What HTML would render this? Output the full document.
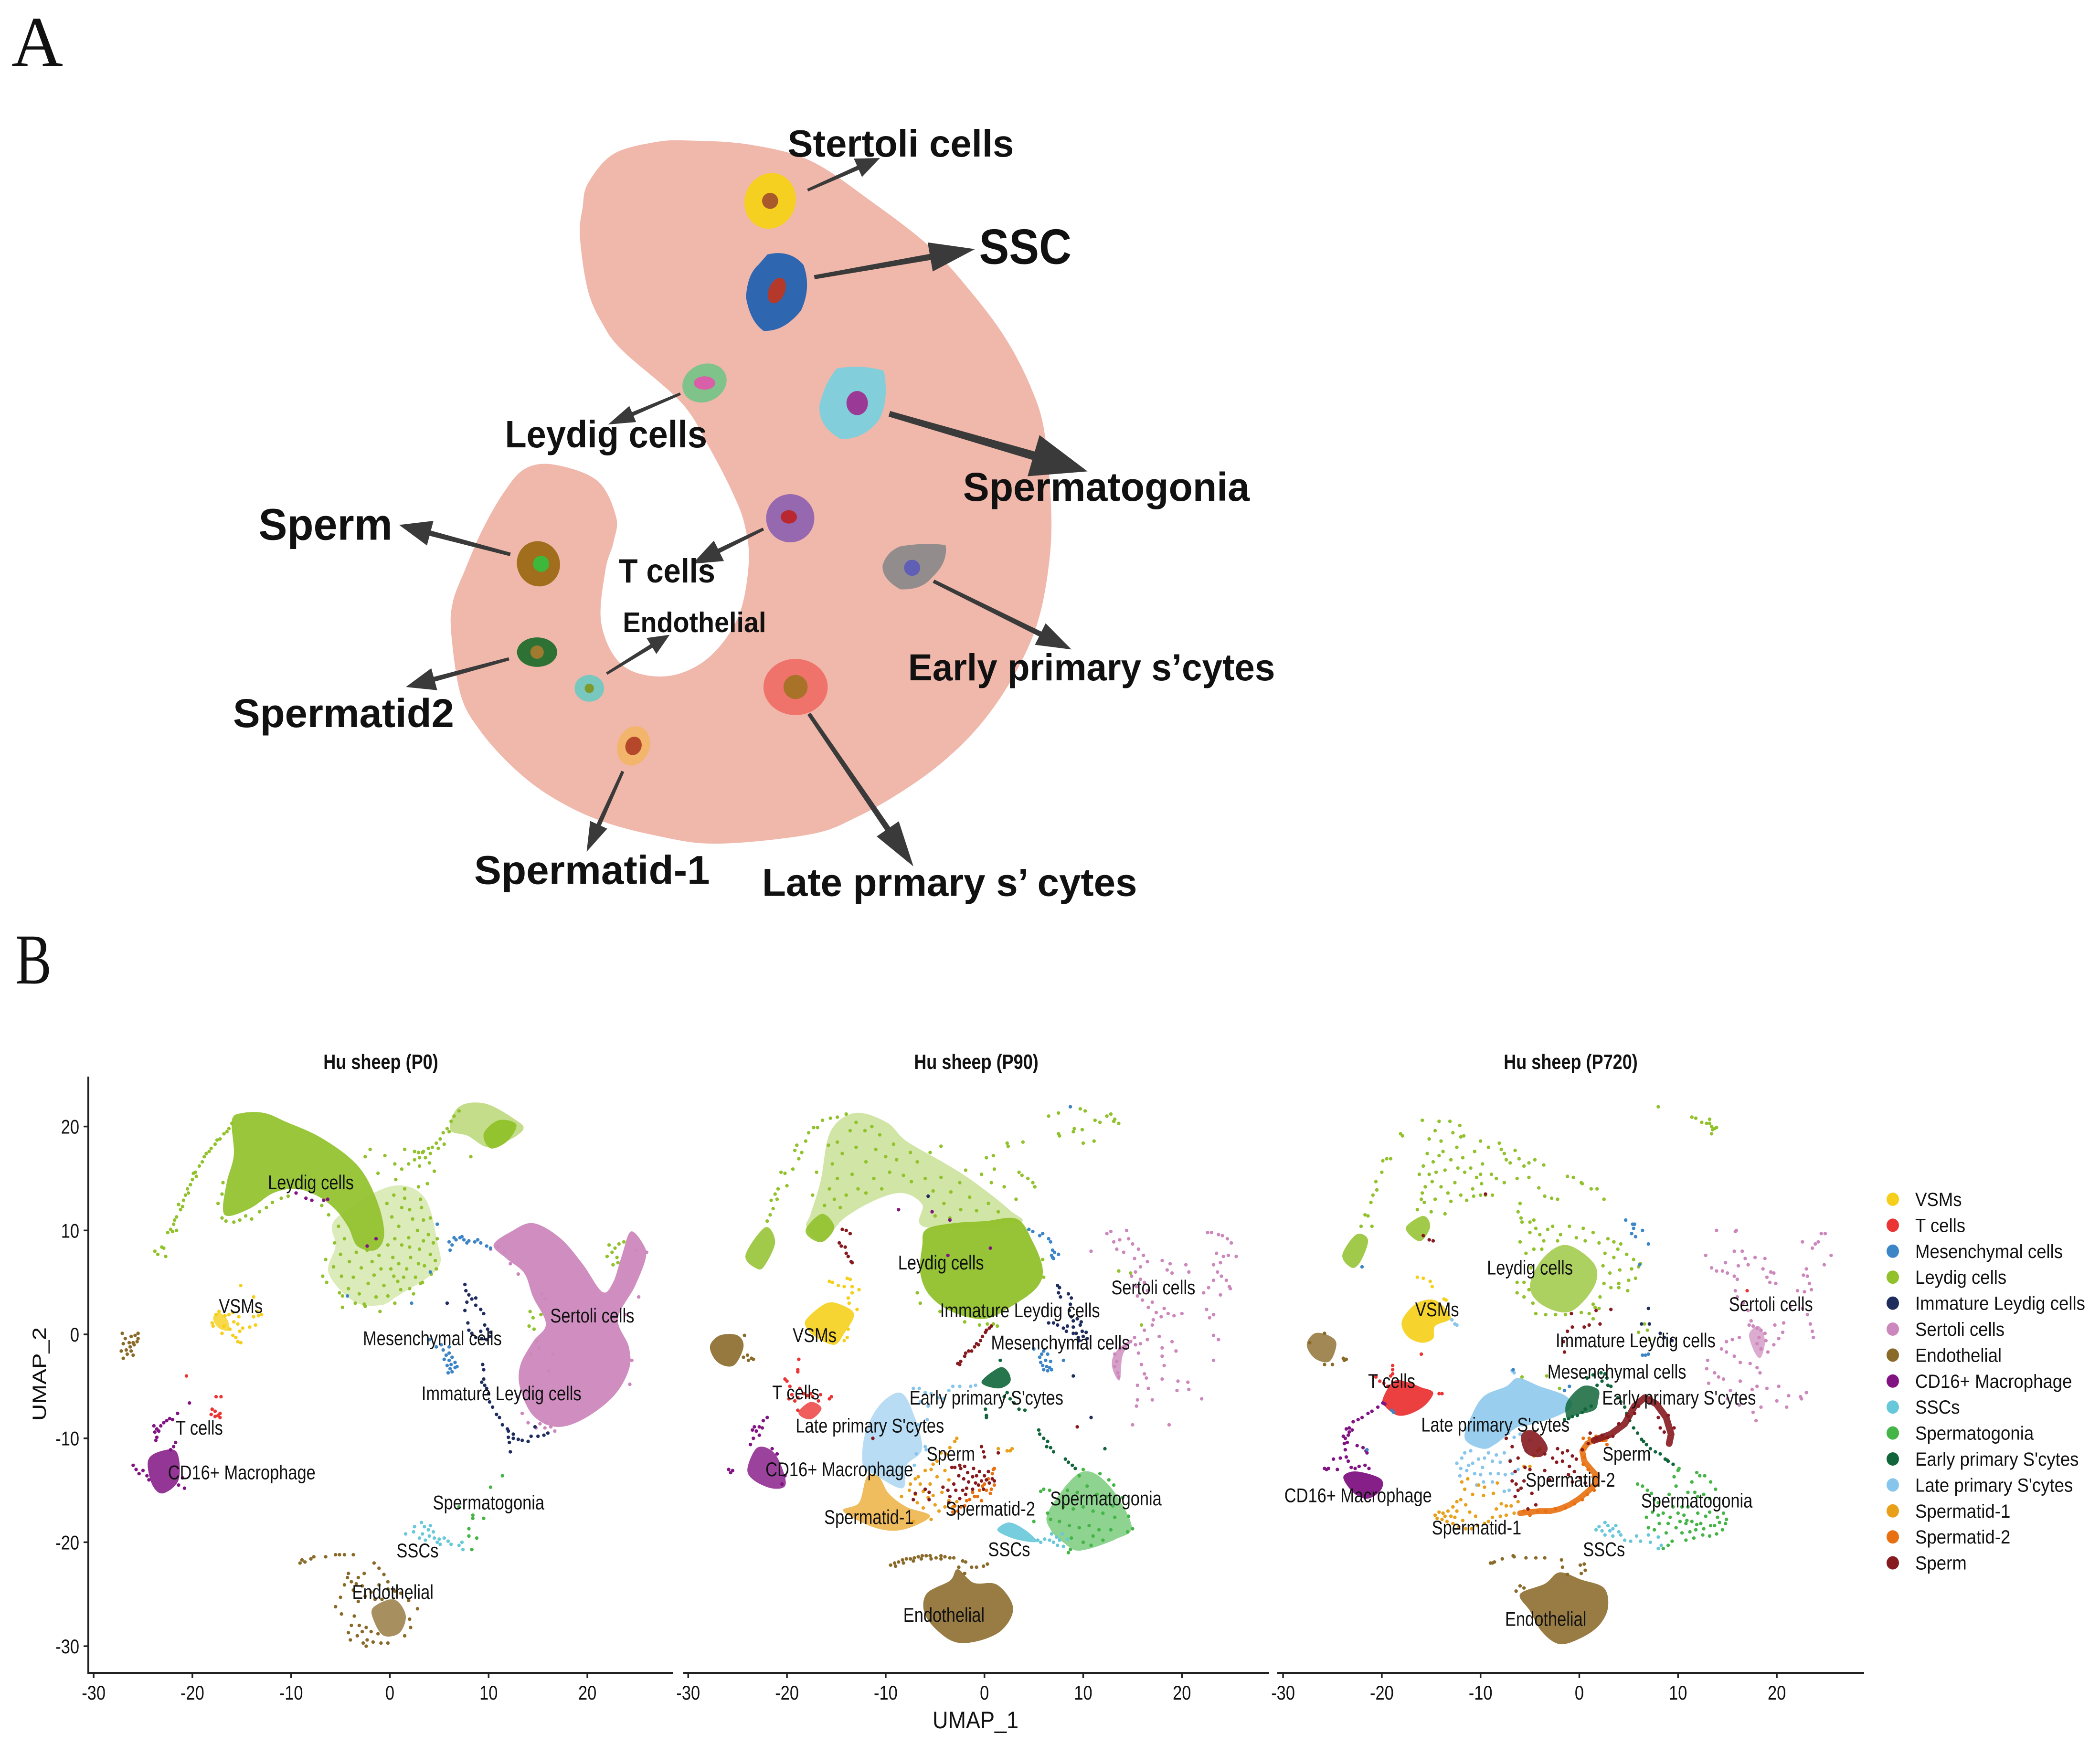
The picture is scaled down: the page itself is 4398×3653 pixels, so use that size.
<!DOCTYPE html>
<html><head><meta charset="utf-8"><title>Hu sheep testis cell atlas</title>
<style>html,body{margin:0;padding:0;background:#fff}svg{display:block}
text{font-family:"Liberation Sans",sans-serif}</style></head>
<body>
<svg id="fig" xmlns="http://www.w3.org/2000/svg" width="4398" height="3653" viewBox="0 0 4398 3653">
<rect width="4398" height="3653" fill="#fff"/>
<text x="24" y="138" style="font-family:'Liberation Serif',serif" font-size="150" fill="#111" textLength="108" lengthAdjust="spacingAndGlyphs">A</text>
<text x="32" y="2060" style="font-family:'Liberation Serif',serif" font-size="150" fill="#111" textLength="76" lengthAdjust="spacingAndGlyphs">B</text>
<g id="tubule" transform="scale(2.805)">
<path id="tubule-shape" fill="#f0b7ab"/>
<g><ellipse cx="575" cy="150" rx="19" ry="21" fill="#f5d020" transform="rotate(20 575 150)"/><circle cx="575" cy="150" r="6" fill="#a85a2a"/></g>
<g><path d="M573 190 Q590 186 600 198 Q606 215 598 232 Q585 248 570 247 Q560 240 557 222 Q558 205 566 198Z" fill="#2e66b0"/><ellipse cx="580" cy="217" rx="6" ry="10" fill="#b5392b" transform="rotate(22 580 217)"/></g>
<g><ellipse cx="526" cy="286" rx="17" ry="14" fill="#7fc38a" transform="rotate(-25 526 286)"/><ellipse cx="526" cy="286" rx="8" ry="5" fill="#d85fa8"/></g>
<g><path d="M625 275 Q645 272 660 277 Q664 300 656 314 Q645 328 628 328 Q610 318 612 302 Q616 285 625 275Z" fill="#82cfdb"/><ellipse cx="640" cy="301" rx="8" ry="9" fill="#9b3a96"/></g>
<g><ellipse cx="590" cy="387" rx="18" ry="18" fill="#9568b0"/><ellipse cx="589" cy="386" rx="6" ry="5" fill="#b8282e"/></g>
<g><path d="M672 408 Q690 405 706 407 Q708 420 696 431 Q688 441 672 440 Q658 432 659 422 Q662 412 672 408Z" fill="#928c8c"/><circle cx="681" cy="424" r="6" fill="#5f5fb5"/></g>
<g><ellipse cx="594" cy="513" rx="24" ry="21" fill="#f0736b"/><circle cx="594" cy="513" r="9" fill="#a87228"/></g>
<g><ellipse cx="473" cy="557" rx="12" ry="15" fill="#f2b56b" transform="rotate(20 473 557)"/><ellipse cx="473" cy="557" rx="6" ry="7" fill="#b5472a" transform="rotate(20 473 557)"/></g>
<g><ellipse cx="440" cy="514" rx="11" ry="10" fill="#78c8c0"/><circle cx="440" cy="514" r="3.5" fill="#7e9a2d"/></g>
<g><ellipse cx="401" cy="487" rx="15" ry="11" fill="#2d7234"/><circle cx="401" cy="487" r="5" fill="#a07a2e"/></g>
<g><ellipse cx="402" cy="421" rx="16" ry="17" fill="#a06e1c" transform="rotate(-20 402 421)"/><circle cx="404" cy="421" r="6" fill="#3db83a"/></g>
<g id="arrows"></g>
<g font-weight="bold" fill="#111">
<text x="588" y="117" font-size="28.5" textLength="169" lengthAdjust="spacingAndGlyphs">Stertoli cells</text>
<text x="731" y="197" font-size="37" textLength="69" lengthAdjust="spacingAndGlyphs">SSC</text>
<text x="377" y="334" font-size="28.5" textLength="151" lengthAdjust="spacingAndGlyphs">Leydig cells</text>
<text x="719" y="374" font-size="30" textLength="214" lengthAdjust="spacingAndGlyphs">Spermatogonia</text>
<text x="193" y="403" font-size="33" textLength="100" lengthAdjust="spacingAndGlyphs">Sperm</text>
<text x="462" y="435" font-size="25" textLength="72" lengthAdjust="spacingAndGlyphs">T cells</text>
<text x="465" y="472" font-size="21" textLength="107" lengthAdjust="spacingAndGlyphs">Endothelial</text>
<text x="678" y="508" font-size="28" textLength="274" lengthAdjust="spacingAndGlyphs">Early primary s’cytes</text>
<text x="174" y="543" font-size="30" textLength="165" lengthAdjust="spacingAndGlyphs">Spermatid2</text>
<text x="354" y="660" font-size="30" textLength="176" lengthAdjust="spacingAndGlyphs">Spermatid-1</text>
<text x="569" y="669" font-size="29" textLength="280" lengthAdjust="spacingAndGlyphs">Late prmary s’ cytes</text>
</g>
</g>
<g id="chart"></g>
</svg>
<script>
// ---------- chart text and ticks ----------
const xTicks=[-30,-20,-10,0,10,20];
const yTicks=[20,10,0,-10,-20,-30];
const panelTitles=['Hu sheep (P0)','Hu sheep (P90)','Hu sheep (P720)'];
const legendLabels=['VSMs','T cells','Mesenchymal cells','Leydig cells','Immature Leydig cells','Sertoli cells','Endothelial','CD16+ Macrophage','SSCs','Spermatogonia','Early primary S\'cytes','Late primary S\'cytes','Spermatid-1','Spermatid-2','Sperm'];
const legendColors=['#f5cf1b','#eb3535','#3c85c6','#91c12b','#1f2d5e','#cc88bc','#8a6a29','#811383','#67c8d9','#45b548','#10663a','#88c5ec','#e8a01a','#e87010','#861a1f'];
const p0Labels=[['Leydig cells',-8,14.6],['VSMs',-15.1,2.7],['Sertoli cells',20.5,1.8],['Mesenchymal cells',4.3,-.4],['Immature Leydig cells',11.3,-5.7],['T cells',-19.3,-9],['CD16+ Macrophage',-15,-13.3],['Spermatogonia',10,-16.2],['SSCs',2.8,-20.8],['Endothelial',.3,-24.8]];
const p90Labels=[['Leydig cells',-4.4,6.9],['Sertoli cells',17.1,4.5],['Immature Leydig cells',3.6,2.3],['Mesenchymal cells',7.7,-.8],['VSMs',-17.2,-.1],['T cells',-19.1,-5.6],['Early primary S\'cytes',.2,-6.1],['Late primary S\'cytes',-11.6,-8.8],['Sperm',-3.4,-11.5],['CD16+ Macrophage',-14.7,-13],['Spermatid-1',-11.7,-17.6],['Spermatid-2',.6,-16.8],['Spermatogonia',12.3,-15.8],['SSCs',2.5,-20.7],['Endothelial',-4.1,-27]];
const p720Labels=[['Leydig cells',-5,6.4],['VSMs',-14.4,2.4],['Sertoli cells',19.4,2.9],['Immature Leydig cells',5.7,-.6],['Mesenchymal cells',3.8,-3.6],['T cells',-19,-4.5],['Early primary S\'cytes',10.1,-6.1],['Late primary S\'cytes',-8.5,-8.7],['Sperm',4.8,-11.5],['Spermatid-2',-.9,-14],['CD16+ Macrophage',-22.4,-15.5],['Spermatogonia',11.9,-16],['Spermatid-1',-10.4,-18.6],['SSCs',2.5,-20.7],['Endothelial',-3.4,-27.4]];

// ---------- P0 UMAP estimates (dense outlines and individually read cells) ----------
const p0LeydigCore=[[-16,20.6],[-14.9,21.3],[-12.7,21.3],[-10.4,20.4],[-7.3,19.1],[-4.2,17.1],[-2.4,15.1],[-1,12],[-.6,9.4],[-1.5,8.1],[-3.3,8.5],[-4.2,10.3],[-5.5,12],[-7.3,13.3],[-9.5,14],[-11.8,13.6],[-14,12.2],[-16.2,11.4],[-16.9,12],[-16.5,14.7],[-15.8,17.3]];
const p0LeydigHalo=[[-5.5,11.1],[-.1,14.2],[3.4,13.3],[4.8,8.9],[4.8,6.3],[.8,3.7],[-1,2.8],[-3.7,3.2],[-6.2,5.9],[-5.5,8.5]];
const p0LeydigHaloDots=[[-5.2,10.4],[-4.6,9.2],[-5,7.7],[-4.1,7],[-3.7,5.5],[-2.9,6.4],[-2.2,4.9],[-3.1,3.9],[-1.4,3.6],[-.6,4.7],[.4,5.6],[1.1,4.3],[1.7,6.3],[2.6,5.5],[3.5,6.6],[4.1,7.7],[3,8.2],[2.1,7.4],[1.2,8.6],[.3,7.4],[-.9,6.3],[-1.8,7],[3.9,9.6],[2.8,10],[1.9,9.3],[.9,10.4],[.2,11.3],[1.2,12.2],[2.3,11.1],[3.2,12.2],[1.5,13.1],[.4,13.4],[-.3,12.6],[.5,9.2],[4.4,8.8],[-5.6,8.8],[-4.2,4.4],[-2.6,2.9],[-1.6,5.7],[.9,6.8],[2.4,3.9],[3.3,5],[-3.4,7.9],[-2.3,8.1],[-1.1,7.6],[-.2,8.6],[.8,5.1],[-.2,3.7],[4.6,7.1],[3.4,9],[2,8.4],[1.4,5.5],[-4.9,5.6],[-5.7,6.5],[.1,6.3],[2.9,6.8]];
const p0LeydigLobe=[[7,21.9],[9.7,22.2],[12.8,20.6],[13.5,19.7],[11.9,18.6],[9.9,18],[7.9,19.1],[6.1,19.7]];
const p0LeydigLobeCore=[[9.5,19.3],[11,20.6],[12.8,20.2],[11.9,18.6],[10.2,17.9]];
const p0LeydigDots=[[-23.8,8],[-23.1,8.4],[-23.5,7.7],[-22.7,7.5],[-22.9,8.3],[-22.5,9.8],[-22.2,10.1],[-22,9.9],[-21.9,10.6],[-21.6,10],[-21.6,11.3],[-21.2,12],[-21.4,12.5],[-20.9,12.9],[-20.7,13.4],[-20.2,14.4],[-20,14.9],[-19.7,15.6],[-19.3,16.2],[-19,16.6],[-18.6,17.4],[-18.1,17.9],[-17.7,18.3],[-17.2,18.8],[-16.8,19.3],[-16.3,19.8],[-16,20.3],[-20.5,14],[-19.6,15.2],[-18.8,17.1],[-18.3,17.6],[-21,12.3],[-20.4,13.6],[-17.5,18.7],[-16.5,19.5],[-21.8,11],[-19.9,15.5],
[-17,11.2],[-16.6,10.9],[-15.8,10.8],[-15.2,11],[-14.6,11.4],[-14,11.1],[-13.2,11.8],[-12.5,12.2],[-11.9,12.7],[-11,13.1],[-10.3,13.3],[-17.4,12.6],[-17,13.5],[-16.9,14.6],[-6.9,12.4],[-6.2,11.5],[-1.2,15.5],[-.5,17.2],[.5,16.4],[1.2,15.9],[1.5,17.8],[-2,17.8],[-2.5,17.1],[2.5,17.6],[3.3,17.5],[3,16.2],[4,16.5],[4.5,15.7],[3.8,14.5],[3.1,13],[2.9,14.2],[1.5,14],[.6,14.9],[2,12],[3.4,11],
[1.9,16.4],[2.5,16.8],[3,17],[3.4,17.6],[3.9,17.9],[4.3,18],[4.7,18.4],[5.1,18.8],[5.4,19.4],[5.8,19.8],[6.2,20.5],[6.5,21],[7,21.5],[4.1,17.4],[4.9,17.9],[3.6,17],[5.5,18.3],[6,19.5],[2.9,17.5],[8.2,17.1],
[-6.4,5],[-5.1,4],[-4.8,3.7],[-3.5,3],[-4.8,2.6],[-2.5,2.7],[-1,2.2],[.5,3],[2,4.4],[3.1,4.9],[4.7,6.3],[4.2,5.8],[4.8,9.2],[4.1,11.2],[-6.8,5.6],[-6.5,7.2],[23,7.4],[22.6,6.7],[22.5,7.9],[22.2,8.6],[22,7.5],[23.2,8.7],[22.8,8.3],[23.7,8.9],[23.1,6.9],[14.5,1.6],[14.2,2.2],[14.1,.8],[14.6,.5],[15.3,1.9],[15.7,3.4],[14.3,-1.9],[14.9,-.7],[16.1,-3.5],[16.5,-1.9]];
const p0SertoliCore=[[10.5,8.6],[12.3,9.9],[14.5,10.7],[17.2,9.3],[19.5,6.8],[21.5,4.1],[22.6,5],[23.5,7.6],[24.4,9.9],[25.7,8.6],[25.9,7.3],[24.8,4.6],[23.1,1.5],[24.2,-1.2],[24.2,-3.4],[22.6,-6],[19.5,-8.2],[16.8,-8.9],[14.5,-7.8],[13.2,-5.2],[13.2,-3],[14.5,-.7],[15.8,1],[14.5,3.6],[13.6,5.9],[11.8,7.3]];
const p0SertoliDots=[[10.2,8.2],[11,8.4],[11.6,7.9],[12.2,6.8],[13,5.8],[15.2,-8.6],[15.7,-9],[16.3,-8.9],[14.8,-9],[14,-8.5],[13.4,-7.6],[12.9,-6],[15.1,-1.3],[15.4,3.9],[24.9,8.1],[26,7.9],[25.2,3.6],[23.9,1.9],[24.5,-2.5],[24.3,-4.8],[16.7,-9.3],[15.8,-8.5]];
const p0VsmCore=[[-17.9,1.5],[-17.4,2.1],[-16.5,1.5],[-16.3,.4],[-17.3,.6]];
const p0VsmDots=[[-17.3,2.2],[-17.6,1.9],[-18,1.1],[-17.9,.8],[-17,.1],[-16.8,.8],[-16.2,.5],[-15.8,1.2],[-15.4,1],[-15.9,-.1],[-15.2,.3],[-14.9,.6],[-14.2,.7],[-13.6,.9],[-13,1.9],[-13.3,1.8],[-13.8,1.7],[-13.4,2.2],[-13.8,3.6],[-15.1,4.7],[-15.4,-.7],[-15.1,-.8],[-15.6,-.3],[-16.7,1.8],[-16.3,1.9],[-15.9,2.1],[-15.3,1.7]];
const p0EndoSmallDots=[[-27.2,-1.6],[-27,-.9],[-26.8,-.4],[-26.7,-1.5],[-26.4,-.8],[-26.2,-.2],[-26.6,-1.9],[-26.2,-1.6],[-26,-.8],[-25.8,-.1],[-25.5,-.4],[-25.5,.1],[-27,-2.3],[-26.3,-1.2],[-25.9,-1],[-25.6,-.7],[-26,-2],[-27.1,.1]];
const p0TDots=[[-18,-7.2],[-17.7,-7.9],[-17.4,-7.8],[-17.2,-7.6],[-17.6,-6],[-17.1,-6],[-18.1,-7.7],[-17.7,-7.4],[-17.2,-8],[-20.6,-4]];
const p0MacCore=[[-24.5,-12.2],[-23.4,-11.3],[-21.6,-11.3],[-21.4,-14],[-23,-15.3],[-24.1,-14.4]];
const p0MacDots=[[-26,-12.6],[-25.7,-13],[-25,-13.1],[-25.4,-13.4],[-24.6,-13.6],[-24.4,-14],[-21,-13.8],[-20.8,-14.8],[-21.4,-14.5],[-21.9,-10.8],[-21.7,-10.4],[-22.2,-11.1],[-23.8,-9.4],[-23.6,-9.1],[-23.9,-8.8],[-23.4,-9.3],[-23.2,-8.8],[-22.9,-8.5],[-22.6,-8.3],[-22.3,-8.1],[-22,-8.2],[-21.5,-7.6],[-23.6,-9.9],[-23.7,-10.2],[-20.3,-6.6],[-9.5,13.6],[-8.5,13.1],[-7.9,12.9],[-6.7,12.9],[-6.3,13],[-2.3,8.5],[-1.4,9.2]];
const p0MesDots=[[5.4,-1.5],[5.7,-2],[6,-1.8],[6,-2.5],[5.8,-3],[6.1,-3.3],[6.3,-3.6],[6.3,-2.2],[6.6,-2.7],[5.2,-1],[6.6,-3.2],[6.8,-3.1],[5.5,-2.4],[4.7,-1.2],[6,-1.2],[5.9,-3.7],[6.2,-2.9],[4,-.5],
[6,8.9],[6.7,9.1],[6.3,8.6],[7.1,9.3],[7.5,9.1],[8,9],[8.6,8.9],[9.2,8.8],[9.8,8.5],[10.2,8.3],[7.3,9.4],[6.1,8.1],[6.5,9.3],[7.8,8.8],[8.9,9.1],[4.8,10.6],[4.1,6],[-4.3,3.7],[2.2,3]];
const p0ImmDots=[[7.6,4.8],[7.7,4.2],[8,3.8],[8.3,3.4],[8.7,3.5],[7.8,3.1],[8.7,2.8],[9.2,2.4],[9.5,2],[7.6,2.3],[7.9,1.1],[8,.4],[8.3,.1],[8.7,-.3],[9.2,.3],[9.6,.9],[9.9,.5],[10.1,-.2],[9.8,-.5],[10.2,.2],[9.3,-.4],[5.8,3],[9.4,-2.9],[9.5,-3.4],[9.5,-4.3],[9.3,-4.6],[9.6,-4.9],[9.8,-5.2],[10,-5.7],[10.1,-6.5],[10.4,-7],[10.8,-7.7],[11.1,-8],[11.4,-8.7],[11.9,-9.1],[12,-9.9],[12.1,-10.4],[12.5,-10],[13,-10.1],[13.4,-10.2],[14,-10.3],[14.3,-9.8],[15,-9.8],[15.6,-9.7],[16,-9.5],[12,-9.3],[12.5,-9.6],[12.2,-11.3],[14.7,-8.9]];
const p0SscDots=[[2.4,-19],[2.5,-18.5],[3.2,-18.1],[3.5,-18.5],[3.3,-19.2],[3.9,-18.8],[3.6,-19.8],[4,-19.4],[4.4,-19],[4.5,-19.6],[4.8,-20],[5.1,-20.2],[5.5,-19.6],[5.9,-19.9],[6.2,-20.2],[7,-20.3],[7.4,-20.7],[1.6,-19.2],[4.1,-18.4],[3,-19.6],[5,-19.7],[7.3,-20]];
const p0GoniaDots=[[11.4,-13.6],[10.2,-14.7],[8.4,-17.4],[8.4,-17.7],[9.5,-17.7],[8,-18.7],[8,-19.4],[8.8,-19.6],[8.3,-20.7],[7,-16.6]];
const p0EndoCore=[[-1.7,-26.3],[.4,-25.5],[1.6,-27],[1,-28.7],[-.6,-29],[-1.6,-27.6]];
const p0EndoDots=[[-4.2,-23],[-3.2,-23.4],[-2.6,-23],[-1.6,-22],[-1.1,-22.5],[-.6,-23.1],[-5,-25.3],[-5.5,-26.2],[-4.9,-26.9],[-3.6,-27.1],[-4.2,-28.7],[-4,-29.4],[-2.4,-30],[2.8,-26.4],[-.2,-24.5],[-9.1,-22],[-8.6,-21.9],[-8,-21.6],[-7.7,-21.4],[-6.5,-21.4],[-5.5,-21.2],[-5.1,-21.2],[-4.6,-21.2],[-3.7,-21.2],[-8.9,-21.7],
[-4.3,-23.4],[-3.9,-23.8],[-3.4,-24],[-2.8,-24.2],[-4.6,-24.1],[-3.7,-24.6],[-2.5,-25.2],[-1.9,-24.8],[-1.1,-24.1],[-.2,-23.8],[.5,-24.7],[1.1,-24.9],[-3.2,-25.7],[-1.5,-25.5],[-.8,-25.5],[1.9,-25.6],[-3.1,-28],[-2.8,-28.6],[-3.3,-29],[-2.4,-28.2],[-2.3,-29.4],[-1.9,-28.6],[-1.7,-29.6],[-.9,-29.7],[-1.2,-28.8],[2,-27.4],[2.1,-28.2],[-3.9,-28],[-2.7,-29.7],[-.2,-29.7],[1.5,-29]];

// ---------- P90 ----------
const p90LeydigCore=[[-5.9,10.1],[-3.1,10.7],[.1,10.9],[3.3,11.1],[4.9,8.9],[5.9,6.3],[5.3,4.5],[2.9,2.8],[.1,1.5],[-3.1,2.1],[-5.5,3.7],[-6.5,5.9],[-6.3,8.5]];
const p90LeydigBand=[[-18,10.3],[-17.6,11.6],[-16.6,14.7],[-15.6,19.5],[-13.1,21.3],[-9.9,20.4],[-7.9,18.6],[-3.9,16.4],[-1.1,14.7],[2.5,12],[3.3,10.7],[-5.9,10.3],[-6.3,12.5],[-8.3,13.6],[-11.1,12.9],[-14.3,11.1],[-16.4,8.9]];
const p90LeydigBandDots=[[-16.2,12.4],[-15.7,14],[-15.2,13],[-14.6,12.2],[-14.9,15],[-15.4,16.4],[-14.4,17.4],[-14.9,18.5],[-13.6,19.6],[-13,20.4],[-12.1,19.6],[-11.4,20],[-10.6,19.2],[-13.4,15.4],[-12.8,14],[-12,13.6],[-11.2,15],[-10.4,14],[-9.6,15.6],[-10,17.1],[-11,17.8],[-12,16.6],[-13,18],[-8.9,16.8],[-8.2,15.3],[-7.4,14.7],[-6.8,16.6],[-6,15],[-5.2,13.8],[-4.4,15.1],[-3.4,13.7],[-4.1,12.6],[-2.5,14.6],[-1.5,13.2],[-2.4,12],[-.8,11.9],[.4,12.6],[1.4,11.8],[-5,11.4],[-3.5,11.2],[-15.8,18.2],[-14,13.4],[-9.2,18.3],[-7.5,17.5]];
const p90LeydigKnot=[[-18,10.3],[-16.4,11.6],[-15.2,10.3],[-16.4,8.9],[-17.8,9.4]];
const p90LeydigFoot=[[-24.2,7.6],[-22.2,10.3],[-21.2,8.9],[-22.2,6.7],[-23,6.3]];
const p90LeydigDots=[[-22,10.9],[-21.7,11.5],[-21.4,12.1],[-21.6,12.9],[-21,13],[-21.2,13.5],[-20.9,14],[-20.6,15.6],[-20.2,15.5],[-20,14.3],[-19.4,15.9],[-18.8,16.9],[-19.2,17.7],[-19,18.2],[-18.5,17.5],[-18.1,18.6],[-17.8,19.4],[-17.3,19.9],[-16.9,19.9],[-16.4,20.6],[-15.6,20.8],[-14.9,20.9],[-14,21.2],[-17,15.6],[-17.4,13.4],[-1.9,15.8],[-.3,15.4],[.7,14.6],[2,14.2],[3.2,13],[.2,17],[.9,17.2],[1,15.9],[-4.4,18.1],[-5.5,17.5],[3.5,15.6],[3.8,15.3],[4.4,15],[4.9,14.6],[5.1,14.2],[2.3,18.4],[3.9,18.5],
[6.5,21],[7.5,21.3],[9.7,21.7],[10.2,21.5],[11.2,20.6],[11.7,20.4],[12.4,21],[12.8,21.2],[13.2,20.7],[13.6,20.3],[13.1,20.5],[7.5,19.3],[7.6,19.1],[9,19.5],[9.1,19.8],[9.9,19.7],[10,18.4],[11.1,18.6],[2.4,18.1],[-6.5,3],[-4.5,2.2],[-2,1.2],[.3,1],[.9,1],[1.3,.8],[5.9,7.2],[6,5.5],[-.5,.9],[-6.8,4],[14.8,5.9],[13.6,6.1],[15.9,.9]];
const p90SertoliDots=[[10.8,8],[12.4,9.7],[12.8,9.9],[13.1,8.9],[13.7,9.1],[13.4,8.2],[14.1,7.9],[14.4,10],[14.6,9.2],[15,8.7],[15.2,7.3],[15.6,8.2],[16.1,7.6],[16.5,7],[15.8,6.5],[15.3,6],[14.9,5.6],[15.8,5.3],[16.2,5],[15.4,4.6],[16.5,4.2],[15.5,3.7],[16,3.3],[16.6,2.6],[17,3.1],[17.4,2.1],[17.1,1.4],[17.9,1.7],[18.2,2.5],[18.6,2],[19.2,1.8],[20,2],[17,.9],[16.2,.4],[16.5,-.5],[15.8,-.9],[15.3,-1],[14.8,-.7],[14.2,-1.2],[13.7,-1.4],[13.2,-1.9],[13.4,-2.6],[13.2,-3.1],[13.5,-3.7],[13.6,-4.1],[15.2,-.3],[15.6,-1.8],[15.9,-2.9],[16.2,-3.8],[16.6,-5.2],[17,-6.3],[15.5,-4.9],[15.5,-6.3],[15.4,-6.9],[17.7,-.2],[18,-1.3],[18,-2.1],[18.2,-3],[18,-4.3],[16.4,-4.2],[19,-.7],[19.4,-1.6],[19.6,-4.5],[19.5,-5.4],[20.6,-4.6],[20.7,-5.3],[22,-6.2],[18.7,-8.7],[15,-8.7],[18,7.1],[18.8,6.8],[18.5,6.2],[19,5.9],[20.4,6.7],[20.7,6],[22.6,9.8],[23,9.8],[23.7,9.6],[24.1,9.5],[24.6,9.2],[25,8.8],[24.7,7.6],[24.2,7.5],[25.5,7.5],[23.5,7.8],[23.9,6.9],[23.2,6.7],[23.6,6],[24,5.6],[23.2,5.2],[24.5,5.2],[24.9,4.4],[24.8,4.6],[22.7,4.5],[22.2,4],[23.9,3.8],[22.5,2.4],[22.8,1.6],[23.2,1.9],[23.2,-.1],[23.7,-.5],[23.2,-2.5]];
const p90SertoliKnot=[[13,-2.2],[13.8,-1.2],[15,-.5],[14,-2],[13.7,-4.4],[13,-3.4]];
const p90VsmCore=[[-18,1.5],[-16,3],[-14.4,2.8],[-13.2,1.9],[-14.2,.1],[-15.2,-1],[-17,-.3],[-18,.6]];
const p90VsmDots=[[-15.7,5.1],[-15.4,5],[-14.8,4.7],[-14.2,4.6],[-13.9,5.4],[-13.6,5.3],[-13.4,4.6],[-13.4,4],[-12.7,4.3],[-13.8,3.5],[-13.7,3],[-12.9,2.4],[-13.8,.5],[-14.2,-.6],[-13.9,-.3]];
const p90EndoSmall=[[-27.8,-1.2],[-26.8,-.1],[-25,-.1],[-24.4,-1.2],[-25.4,-3],[-27,-2.7]];
const p90EndoSmallDots=[[-24,-2],[-23.6,-2.3],[-23.4,-2.4],[-23.9,-2.5],[-24.4,-2.2],[-24.3,-.1]];
const p90TCore=[[-18.8,-7.4],[-17.6,-6.5],[-16.5,-7.1],[-17.4,-8.1],[-18.4,-8]];
const p90TDots=[[-18.8,-2.4],[-18.9,-3.6],[-18.9,-3.4],[-20.2,-4.3],[-20,-4.5],[-19.7,-5],[-19.5,-5.8],[-19.8,-6.2],[-18.9,-6.1],[-18.7,-5.2],[-18.3,-5.7],[-17.9,-5.9],[-17.6,-5.7],[-17.4,-6],[-16.6,-5.8],[-15.7,-6.2],[-15.5,-6],[-18.9,-7.3],[-19.2,-6.4],[-16.8,-6.4]];
const p90MacCore=[[-24,-12.9],[-23,-10.9],[-21.4,-11.3],[-20.4,-13.1],[-20.2,-14.6],[-21.6,-14.8],[-23.4,-14]];
const p90MacDots=[[-25.9,-13],[-25.5,-13.1],[-25.7,-13.3],[-23.5,-9.2],[-23.1,-9.3],[-22.8,-8.9],[-22.4,-8.3],[-22,-8],[-22.5,-9],[-23.3,-8.9],[-22.8,-9.7],[-23.7,-10.6],[-23.4,-10],[-21.5,-11],[-21,-11.5],[-20.2,-13.6],[-20.5,-14.4],[-8.7,12],[-5.3,11.8],[-3.5,11],[-3.7,7.6],[.6,8.3]];
const p90MesDots=[[5.8,-1.9],[6,-1.6],[6.2,-2.5],[5.7,-2.7],[5.9,-3],[6.3,-3.1],[6.4,-3.5],[6.6,-3.2],[6.7,-2.6],[6.4,-1.9],[5.6,-2.2],[6,-3.4],[6.8,-3.4],[5,-1.4],[8,-2.5],[4.5,10.1],[4.9,9.9],[5.6,9.5],[5.9,9.7],[6.5,9.2],[6.7,8.9],[6.9,8.1],[7.1,7.9],[7.5,7.7],[7,7.3],[6.8,7.6],[6.9,7.4],[8.7,21.9]];
const p90ImmDots=[[7.4,4.7],[7.6,4.5],[7.5,4],[7.7,3.6],[8.5,3.9],[8.8,3.5],[8.7,2.9],[8.6,2.3],[8.8,1.7],[9,1.3],[9,.7],[9.3,.1],[9.5,-.3],[9.7,.9],[9.9,.3],[10,-.2],[10.3,.2],[10.4,-.4],[8.4,.8],[8.3,.3],[7,1.1],[6.5,1.1],[7.4,.9],[8,.6],[9.4,1.5],[9.8,1.2],[9,.1],[9.6,-.6],[9,-4],[10.8,-8],[-5.7,13.3]];
const p90EarlyCore=[[-.3,-4.6],[1.5,-3.2],[2.4,-3.6],[2.6,-4.6],[1.4,-5.2]];
const p90EarlyDots=[[1.6,-2.5],[2.3,-5.6],[2.6,-6.2],[3,-6.6],[3.5,-7.2],[4.1,-7.3],[.1,-7.2],[.2,-7.8],[.2,-8],[5.5,-9.2],[5.6,-9.6],[6,-10],[6.4,-10.3],[6.3,-10.8],[6.7,-10.9],[7,-11.3],[8.2,-12],[8.5,-12.3],[8.9,-12.6],[9.2,-12.9],[12.2,-11],[2,-6]];
const p90LateCore=[[-12.3,-12.6],[-12.1,-9.6],[-10.7,-6.9],[-8.7,-5.6],[-7.5,-6.9],[-6.3,-10.9],[-7.9,-12.6],[-8.3,-14.8],[-11.1,-13.5]];
const p90LateDots=[[-7.2,-5.2],[-6.6,-5.2],[-6,-5.6],[-5.4,-5.7],[-4.7,-6.1],[-4.1,-6.2],[-3.6,-5.4],[-3.2,-5],[-2.5,-5],[-1.4,-5],[-.9,-4.9],[-6.5,-6.5],[-5.7,-6.9],[-5.8,-8.2],[-6.7,-8.7],[-6,-10.8],[-5.9,-11.1],[-7.1,-12.6],[-6.9,-11.5]];
const p90Sp1Core=[[-12.7,-16.2],[-11.9,-13.7],[-10.7,-13.7],[-9.7,-15.3],[-7.9,-16.6],[-5.5,-17.5],[-8.3,-18.8],[-11.1,-18.6],[-14.3,-17]];
const p90Sp1Dots=[[-7.5,-14.4],[-7,-13.9],[-6.5,-14.4],[-6.7,-13.7],[-6,-13.1],[-5.4,-13],[-5.2,-12.5],[-4.8,-12.2],[-4.4,-11.4],[-3.9,-11.5],[-3.5,-10.9],[-3,-10.3],[-2.8,-10],[-6.2,-15.1],[-5.7,-15.7],[-5.2,-15.5],[-5,-16.4],[-4.6,-17],[-4,-16.6],[-3.6,-16],[-7,-15.4],[-6.8,-16.2],[2.6,-11.2],[2.8,-11],[2.3,-11.2],[1.4,-11],[-4.3,-15.2],[-3.2,-16.6],[-2.8,-16.1],[-4.8,-13.7],[-4,-13.1],[-3.6,-14],[-5.5,-14.4],[-8.4,-15.6],[-7.6,-15],[-6.2,-16.7],[-5.4,-17.8],[-7.2,-18]];
const p90Sp2Dots=[[-2.7,-17],[-2,-16.5],[-1.5,-15.9],[-1,-15.6],[-.5,-15],[0,-14.4],[.4,-13.9],[.8,-13.4],[1,-14.5],[.7,-14.9],[-.3,-16],[-3.2,-17.1],[.9,-13],[.6,-15.3],[1,-12.9],[-2.4,-16.6],[-1.8,-16],[-1.2,-15.2],[-.7,-15.6],[-.2,-14.6],[.2,-15],[-3,-16.5]];
const p90SpermDots=[[-14.4,10.1],[-14,10],[-13.6,9.7],[-14.7,8.8],[-14.5,8.5],[-14.1,8.4],[-14,7.8],[-13.8,7.5],[-13.5,7],[-13.4,6.9],[-2.7,-2.8],[-2.4,-2.6],[-2,-2.1],[-1.6,-1.6],[-1.3,-1.6],[-1,-1.2],[-.8,-.9],[-.4,-.6],[-.2,-.2],[.2,.4],[.1,.2],[.5,.6],[.7,.8],[-.6,-1],[-1.9,-1.8],[-2.5,-2.9],[-11.3,-10],
[-.3,-10.8],[-.1,-11.3],[0,-11.8],[1.4,-11.4],[-3.3,-12.8],[-3,-12.8],[-2.5,-12.6],[-2.4,-12.9],[-2.6,-13.6],[-2.1,-13.9],[-1.7,-13.3],[-1.2,-13.7],[-.8,-13.6],[-.5,-13.2],[0,-13.6],[.4,-13.2],[.8,-13.9],[1,-14.1],[-1.8,-14.8],[-1.2,-14.9],[-.6,-14.5],[-.1,-14.9],[.5,-14.3],[-1.9,-15.4],[-2.9,-15],[-3.7,-15],[-3.5,-15.6],[-4.2,-14.7],[-5.6,-15.2],[-5.6,-15.9],[-6,-14.9],[-7,-15.3],[-7.2,-15.9],[-2.5,-15.8],[-3.6,-16.2],[9.4,-8.9],[-1.6,-14.2],[-.9,-14.3],[-.3,-14.1],[.2,-14],[-1.1,-12.9],[-2,-12.7],[-3.1,-14.4],[-2.2,-15]];
const p90GoniaCore=[[6.5,-17],[9.7,-13.3],[12.5,-14.4],[14.9,-18.4],[13.3,-19.7],[9.7,-20.8],[8.1,-20.1],[6.7,-18.8]];
const p90GoniaDots=[[5.7,-15.1],[6,-14.9],[6.6,-15],[6.4,-17.2],[6.7,-17.8],[10,-13],[9.6,-13.6],[11.7,-13.4],[12.6,-14],[13.1,-14.5],[14,-15.7],[14.6,-17.5],[15,-18.7],[14.5,-19],[12,-19.8],[10.8,-20.3],[8.7,-20.7],[8.5,-21],[5,-18],[8.4,-15],[9.4,-15.2],[10.4,-14.6],[11.4,-15.4],[12.4,-15.6],[13,-16.5],[8,-16.6],[9,-16.8],[10,-16.6],[11,-17],[12,-17.2],[13.2,-17.6],[7.6,-18],[8.6,-18.4],[9.6,-18.6],[10.6,-18.4],[11.6,-18.8],[12.8,-18.8],[8.8,-19.6],[10,-20],[11,-19.4]];
const p90SscCore=[[1.3,-18.8],[2.5,-18.1],[4.1,-18.8],[5.3,-19.9],[4.1,-19.9],[2.5,-19.5]];
const p90SscDots=[[5.4,-19.8],[5.7,-20],[6.1,-19.7],[6.6,-19.8],[6.8,-19.2],[7,-20],[7.4,-20.3],[7.6,-19.8],[7.9,-19.2],[8,-20.4],[7.3,-19.5],[8.4,-19.7]];
const p90EndoCore=[[-5.9,-25],[-3.5,-23.7],[-2.7,-22.6],[-1.1,-23.9],[1.3,-24.1],[2.9,-26.3],[1.7,-28.5],[-1.1,-29.6],[-3.5,-29.4],[-5.9,-27.2]];
const p90EndoDots=[[-9.5,-22.2],[-9.1,-22],[-8.7,-21.9],[-8.3,-21.7],[-7.9,-21.6],[-7.5,-21.6],[-7.1,-21.5],[-6.7,-21.4],[-6.3,-21.3],[-5.9,-21.3],[-5.5,-21.3],[-4.9,-21.5],[-4.4,-21.3],[-4,-21.4],[-3.5,-21.5],[-3.1,-21.5],[-2.2,-21.8],[-1.9,-21.9],[-1.3,-22.4],[-.8,-22.4],[.3,-22.1],[-.1,-22.3],[-2,-23],[-2.6,-22.4],[-9,-22.3],[-8.2,-22],[-7.2,-21.8],[-6.4,-21.6],[-5.4,-21.6],[-4.4,-21.6]];

// ---------- P720 ----------
const p720LeydigFoot=[[-24,7.6],[-22.6,9.6],[-21.4,9.1],[-22.1,7.1],[-23,6.4]];
const p720LeydigKnot=[[-17.5,10.4],[-15.8,11.4],[-15.1,10.4],[-16,9],[-17.1,9.5]];
const p720LeydigBandDots=[[-16.4,12],[-16,13],[-15.6,14.2],[-15.2,15.4],[-14.8,16.6],[-15.4,17.4],[-15.2,18.8],[-14.6,19.6],[-14,18.6],[-14.2,17.2],[-13.6,15.8],[-14,14.2],[-14.6,13],[-15,11.8],[-13.6,11.6],[-13,12.8],[-12.6,14.6],[-13,16.8],[-12.4,18],[-12.8,19.4],[-12,19],[-11.8,17],[-11.6,15.6],[-12,13.4],[-11.4,12.9],[-10.8,14],[-11,16],[-10.6,17.6],[-10,13.4],[-10.4,15.1],[-9.8,16.4],[-15.7,12.7],[-14.9,14.7],[-16.2,15.4],[-15.8,16.2],[-13.3,13.6],[-14.5,15.6],[-12.3,16],[-13.8,17.6],[-15.9,13.6]];
const p720LeydigHeart=[[-5,4.6],[-3.7,7.3],[-1.3,8.6],[1.5,6.8],[1.5,4.6],[-.9,2.2],[-3.7,2.8]];
const p720LeydigHaloDots=[[-5.8,10.8],[-5,9.8],[-4.4,10.2],[-3.6,9],[-2.7,10.4],[-1.9,9.6],[-1,10.4],[-.3,9.3],[.6,9],[1.4,9.8],[2,8.8],[2.9,9.2],[2.6,7.8],[3.5,7.4],[2.4,6.6],[3.1,5.9],[4.1,6.2],[4.8,7.7],[5.3,6.3],[2.5,4.9],[2.1,3.6],[.2,2.1],[-1.4,1.9],[-2.4,1.9],[-3.4,1.9],[-4.7,3],[-5.6,3.6],[-5.6,5],[-4.9,6.4],[-5.4,7.8],[-4.6,8.2],[-6,8.9],[-3.8,8.2],[-2.2,9],[.4,10.2],[3.9,8.2],[1.4,2.9],[-4.4,2],[-5.1,4.3],[4,4.9],[5,5.2],[2,2.5]];
const p720LeydigDots=[[-18.1,19.3],[-17.9,19.1],[-19.5,16.9],[-19.9,16.7],[-19.1,16.9],[-20,15.6],[-20.6,14.7],[-20.5,13.9],[-20.9,13.4],[-21.1,12.7],[-21.7,11.5],[-21.4,11.4],[-22.1,10.4],[-21,10.4],[-15.9,20.6],[-14.2,20.5],[-13.1,20.5],[-12.1,20.1],[-11.7,19.1],[-10,18.6],[-9.2,18],[-8.1,18.4],[-7.9,17.8],[-7.6,17.4],[-7.4,16.8],[-7,16.5],[-6.5,17.7],[-6.1,16.9],[-5.6,16.2],[-5.1,16.5],[-4.5,16.8],[-3.6,16.3],[-8.9,15.4],[-8.4,15],[-7.6,14.6],[-6.3,15],[-5.1,15.1],[-4.1,14.1],[-3.5,13.3],[-2.8,13.1],[-2.2,13],[-1.2,15.2],[-.6,15.1],[.2,14.6],[.3,14.5],[1.2,14],[1.8,14],[2.5,13],[-9.9,14.5],[-9.5,13.4],[-8.8,13.4],[-10,15.4],[-10.7,13.3],[-6,12.6],[-6.2,11.8],[-5.9,11.2],[-5,10.8],[-4.6,11],[-4,9.6],[-3.2,10.1],[3.5,8.9],[4.2,8.7],[5.5,7.2],[6.2,6.8],[6,6.5],[5.7,5.4],[4.9,4.2],[4,4.5],[3.2,4.5],[1.6,2.6],[1,2],[1.4,1.5],[-6.3,5],[-6.3,4],[8,21.9],[11.4,20.9],[11.8,20.8],[12.4,20.4],[12.9,20.3],[13.2,20.3],[13.4,20],[13.5,19.7],[13.7,19.8],[13.9,19.9],[13.4,19.3],[13.2,20.7],[7.1,-.5],[6,.2],[6.6,1],[6.9,.4],[-5.8,-4.1],[-3.3,-4],[-2,-5.2]];
const p720VsmCore=[[-18,1.1],[-17.2,2.4],[-16,3.2],[-14.4,3.2],[-13,1.6],[-14.6,.8],[-14.8,-.4],[-16,-.8],[-17.4,-.2]];
const p720VsmDots=[[-16.4,5.5],[-15.8,5.4],[-15.1,5.1],[-14.9,4.6],[-13.5,3.3],[-13.7,3.4],[-15,3.2]];
const p720LateExtra=[[-12.9,1.4],[-12.6,1],[-12.4,.9],[-6.7,-3.4],[-6.8,-3.5],[-6.6,-3.7]];
const p720EndoSmall=[[-27.6,-1],[-26.8,.1],[-25.4,-.1],[-24.6,-.9],[-25.3,-2.6],[-26.8,-2.3]];
const p720EndoSmallDots=[[-23.9,-2.3],[-23.8,-2.5],[-23.6,-2.4],[-25.8,-2.9],[-25,-2.9],[-25.8,.1],[-27.3,-.8]];
const p720TCore=[[-19.9,-6.2],[-18.8,-4.5],[-17.4,-4.6],[-16,-5.1],[-14.8,-5.6],[-15.6,-6.8],[-17,-7.6],[-18.4,-7.8],[-19.6,-7]];
const p720TDots=[[-18.9,-3],[-18.9,-3.4],[-18.9,-3.8],[-19.1,-4],[-20.6,-4.1],[-20.2,-4.5],[-19.8,-4.7],[-19.4,-5],[-14.2,-5.7],[-13.9,-5.7],[-16,-1.9],[17,4.2]];
const p720MacKnot=[[-23.9,-13.8],[-23,-13.2],[-21.4,-13.4],[-20,-14],[-20.1,-15],[-21.4,-15.8],[-22.8,-15.3]];
const p720MacDots=[[-24.5,-13],[-25.6,-13],[-25.8,-12.9],[-25.4,-12.9],[-23.6,-9.1],[-23.3,-9],[-23,-9.2],[-23.4,-9.7],[-23.7,-10],[-23.8,-10.5],[-23.7,-11.1],[-23.6,-11.8],[-23.4,-12.2],[-23.1,-12.8],[-22.7,-12.9],[-22.3,-12.7],[-21.7,-12.6],[-21.3,-12.9],[-22.5,-10.7],[-21.9,-10.9],[-21.5,-11.4],[-21.6,-11.2],[-24.9,-12],[-24.2,-11.9],[-22.9,-8.4],[-22.4,-8.2],[-22,-8],[-21.4,-7.6],[-21,-7.4],[-20.4,-7],[-19.9,-6.6],[-19.7,-6.7],[-23.9,-9.8],[-23.5,-10.4],[-23.3,-9.4]];
const p720MesDots=[[4.7,11],[5.4,10.6],[5.5,10.2],[5.6,10.6],[6.4,10],[5.3,9.7],[5.7,9.4],[7,8.7],[6.1,6.7],[6.4,-2],[6.7,-2],[7,-1.9],[-19,-7.3],[-18.8,-7.5],[-21.5,-11.1],[-6.7,-3.4],[-1,-5],[-1.5,-5.4],[-22,6.5]];
const p720ImmDots=[[7,2.5],[6.3,1],[7.1,1],[8.2,.1],[8.6,-.3],[9.4,-.6]];
const p720EarlyCore=[[-1.3,-6.6],[.3,-5],[1.9,-5.3],[1.9,-6.4],[1.5,-7.3],[-.4,-7.8],[-1.2,-8.2]];
const p720EarlyDots=[[-1.5,-8.2],[-1.1,-8.1],[-.7,-7.9],[-.2,-7.8],[.3,-7.5],[.6,-7.2],[1.2,-6.9],[.8,-4.2],[1.4,-3.9],[2.2,-3.7],[2.6,-3.8],[2.8,-4.2],[2.3,-4.5],[2.9,-4.9],[3.2,-5],[1.8,-4.9],[3.9,-6.1],[4.2,-6.5],[4.6,-7],[4.8,-7.6],[5.1,-8.3],[5.5,-9],[5.9,-9.5],[6.3,-10.1],[6.8,-10.6],[7.2,-11],[7.7,-11.3],[8.2,-11.5],[8.7,-12],[9,-12.2],[9.5,-12.5],[5,-7.9],[6.5,-10.3],[8.9,-12.1]];
const p720LateCore=[[-10.8,-7.6],[-9.6,-5.9],[-7.4,-5],[-6.2,-4.2],[-4,-5],[-1.4,-5.9],[-.8,-7],[-2.6,-8],[-5.4,-8.8],[-6.4,-9],[-8.4,-10.5],[-9.8,-11],[-11.6,-10]];
const p720LateDots=[[-12.4,-12.4],[-12,-12.9],[-11.6,-11.4],[-11.2,-12.6],[-10.6,-13.4],[-9.8,-12.8],[-9.6,-11.9],[-8.8,-12.2],[-8.2,-13.4],[-7.6,-11.4],[-7,-12.1],[-7.5,-13.5],[-6.8,-13.4],[-6.2,-13],[-5.4,-11.2],[-5,-10.2],[-10.4,-14.5],[-9.7,-14.2],[-8.8,-14.2],[-7.6,-15.1],[-7.1,-15],[-12.1,-13.6],[-6.6,-9.9],[-7.2,-9.5],[-6,-9.6],[-11.9,-11.9],[-11,-11.2],[-10.2,-12],[-9.2,-11.4],[-8.4,-11.6],[-10.8,-12.4],[-11.4,-13.1],[-10,-13.5],[-9,-13.4],[-8,-12.3]];
const p720Sp1Dots=[[-14.6,-17.4],[-14.2,-17.1],[-13.8,-17.2],[-13.3,-17],[-12.8,-16.6],[-12.4,-16.1],[-12,-15.9],[-11.5,-16.4],[-11.1,-17.1],[-10.5,-17.5],[-13.9,-17.8],[-13.4,-18],[-12.8,-18.2],[-12.2,-18.5],[-11.5,-18.7],[-10.9,-18.7],[-10.3,-18.4],[-9.6,-18.2],[-9.2,-18],[-8.8,-17.6],[-8,-17.5],[-7.4,-17.4],[-6.6,-17.2],[-8.4,-16.8],[-7.9,-16.3],[-7.4,-16.5],[-6.9,-16.5],[-6.2,-16.1],[-11.9,-14.2],[-11.6,-14.9],[-11.3,-13.9],[-10.8,-15.4],[-10.2,-14.5],[-9.7,-15.5],[-9.6,-14.7],[-8.7,-15.3],[-8.3,-14.3],[-5.6,-12.7],[-5,-12.7],[-4.6,-11.7],[-4.2,-11.2],[-4,-11],[-14.4,-17.7],[-13.6,-17.5],[-12.6,-17.6],[-11.8,-17.9],[-12.4,-17],[-13,-17.5]];
const p720Sp2Band=[[-6,-17.2],[-5,-17.1],[-4,-17],[-2.9,-17],[-2,-16.8],[-1,-16.4],[0,-15.8],[1,-15],[1.7,-14.3],[1.8,-13.6],[1.2,-13],[.5,-12.2],[.3,-11.2],[.8,-10.5],[1.6,-10.1],[2.6,-10.1]];
const p720Sp2Dots=[[.4,-10],[.3,-11],[.5,-11.8],[.4,-12.5],[.9,-13],[1.4,-13.7],[1.8,-14.5],[1.5,-15],[.8,-15.4],[.3,-15.9],[-.5,-16.3],[-1.4,-16.7],[-2.4,-16.8],[-3.4,-17],[-4.2,-17],[-5,-17.4],[1,-10],[1.7,-9.8],[2.4,-10.2],[2.8,-10.6],[-5.6,-17]];
const p720SpermCore=[[-5.9,-9.8],[-5,-9.2],[-3.9,-9.8],[-3.2,-11],[-4,-11.8],[-5.4,-11.4]];
const p720SpermBand=[[1.5,-10.2],[3.2,-9.6],[4.6,-8.6],[5.6,-6.9],[6.6,-6.1],[7.8,-6.7],[8.8,-8],[9.3,-9.6],[9.1,-10.5]];
const p720SpermDots=[[-2.2,-11],[-1.7,-11.4],[-1.2,-11.2],[-.7,-11.7],[-.3,-12],[.3,-11.1],[.9,-10.5],[1.1,-9.5],[1.7,-10],[2.3,-9.7],[2.9,-9.9],[-3.5,-11.5],[-2.7,-11.9],[-2.3,-12.3],[-1.7,-12.2],[-1,-12.7],[-.5,-13.2],[.1,-13.8],[.6,-14.3],[-1.1,-13.5],[-.7,-14.2],[-5,-13],[-5.5,-12.8],[-6.5,-13.2],[-6.8,-14.1],[-6.4,-14.4],[-5.6,-14.1],[-5.9,-14.8],[-6.2,-15],[-4.8,-15.3],[-4.4,-16.4],[-5.2,-16.8],[-6.5,-15.6],[-7,-12.2],[-7.4,-10],[-6.8,-10.8],[-6.2,-11.9],[-3.5,-13.1],[-3,-14],[-9.5,13.5],[-15.8,9.5],[-15.2,9.1],[-14.8,9],[-.8,2],[1.7,2.3],[3.2,2.4],[-.7,.7],[.5,.7],[-1.6,-.7],[-1.2,.3],[-1.5,-1.7],[1,.9],[2.1,1],[3.4,-9.8],[4,-8.6],[4.8,-7.8],[5.6,-7.6],[8,-8],[8.2,-9],[9,-7.8],[9.6,-9],[8.6,-9.4],[7.2,-6.1],[6,-6.9]];
const p720SertoliDots=[[13.9,10],[15.8,9.9],[15.9,10],[12.8,7.6],[13.4,6.4],[13.9,6.1],[14.5,6.1],[14.8,6.9],[15,5.9],[15.7,5.6],[16,5.3],[15.7,8],[16.5,8],[16.8,7.3],[16.1,6.6],[17.1,6.7],[17.8,7.4],[18.8,7.3],[18.6,6.3],[19.4,6],[19.7,5.9],[19,5.5],[19.3,5],[19.9,4.9],[15.8,4.2],[16,3.6],[16.6,3],[17.1,2.3],[17.4,1.3],[17.2,.9],[17.6,.8],[18,.6],[18.2,-.3],[18.4,.4],[18.8,.1],[18,-.9],[18.4,-1.4],[18.9,-.6],[19.1,-1.7],[19.7,-1],[20.2,-.4],[20.6,.2],[16.2,-.3],[15.5,-.5],[14.9,-.7],[14.4,-1.4],[14.9,-1.7],[15.7,-2.1],[16.3,-2.7],[17.3,-2.8],[18,-3.2],[18.3,-3.7],[13,-2.5],[12.9,-3.3],[13.7,-3.7],[14.1,-4.1],[14.6,-4.3],[15.3,-5.4],[16.3,-4.5],[17.5,-5.3],[18,-5],[19,-5.2],[20.2,-5],[21.2,-5.9],[21,-7],[22.4,-6],[23,-5.6],[22.5,-6.2],[19.8,.9],[20.7,1.1],[21.4,2.7],[22.6,2.5],[23.1,1.9],[23.4,1],[23.6,.3],[23.7,-.3],[22.1,4.2],[22.8,4.1],[23.3,4.9],[23.1,5.6],[23,6.3],[22.6,8.9],[23.9,8.7],[24.2,8.9],[24.5,9.7],[24.9,9.7],[23.6,8.3],[24.8,6.7],[25.5,7.6],[22.7,5.7],[23.5,4.3],[17.6,-7.5],[17.9,-8.3],[20,-6.4],[18.4,-7],[15,-6.2],[16.2,-6.8],[13.1,-4.7]];
const p720SertoliKnot=[[17.2,0],[18.2,.8],[18.8,-.6],[18.4,-2.2],[17.8,-1.8]];
const p720GoniaDots=[[5.9,-14.4],[6.4,-14.6],[6.9,-15],[7.3,-15.3],[7.6,-15.9],[8,-16.2],[7.4,-17.1],[6.8,-17.6],[7,-18.6],[7.6,-18.8],[8,-17.4],[8.5,-17.2],[8.1,-18.2],[9,-18.2],[9.5,-16.6],[9.1,-15.4],[9.8,-14.6],[9.6,-13.7],[10,-13.1],[10.1,-12.9],[11,-15.2],[11.4,-14.2],[11.7,-15.2],[12.2,-13.6],[11.9,-13.3],[12.7,-13.6],[13.3,-14.2],[13.8,-14.9],[12,-15.6],[12.6,-15.4],[13.2,-15.8],[10,-17.2],[10.6,-17.4],[10.2,-18],[10.8,-18.2],[11.4,-18],[9.8,-18.6],[10.4,-19.1],[11.2,-19],[11.8,-18.8],[12.3,-18.2],[12.8,-17.5],[13.2,-17.1],[14,-17.6],[14.6,-17.2],[14.8,-18.2],[14.5,-18.8],[13.9,-19.2],[13.2,-19.4],[12.5,-19.3],[11.6,-19.6],[10.8,-19.8],[9.4,-19.9],[8.5,-20.6],[9,-20.3],[8.8,-19.1],[14.9,-17.8],[13.3,-18.4],[12,-17.2],[11,-16.6],[10.4,-16.6],[9.2,-17.6],[10.9,-17.9],[11.9,-18.3],[12.6,-18.7],[13.7,-18.4],[14.2,-18.1]];
const p720SscDots=[[1.7,-18.8],[2,-18.5],[2.3,-18.9],[2.6,-18.1],[2.9,-18.4],[3.1,-18.9],[3.4,-18.7],[3.7,-18.4],[4,-19],[4.2,-19.3],[4.6,-19.8],[5.2,-19.9],[5.8,-19.4],[6.2,-19.9],[7,-19.3],[7.2,-20],[8,-20.6],[8.3,-20.3],[2.6,-19.3],[3.4,-19.4],[8,-19.5]];
const p720EndoCore=[[-6,-25],[-3.5,-24],[-2,-22.9],[.2,-23.6],[2.5,-24.4],[2.9,-26.3],[2,-28],[.2,-29.2],[-2,-29.8],[-3.8,-28.6],[-5,-26.6]];
const p720EndoDots=[[-9,-22],[-8.6,-21.9],[-8.8,-22],[-7.8,-21.6],[-6.7,-21.3],[-6.6,-21.4],[-5.4,-21.5],[-4.4,-21.5],[-3.5,-21.5],[-1.8,-21.7],[-1.7,-22.4],[.1,-22.2],[.5,-22.1],[.6,-22.7],[.2,-23],[-1.2,-23.1],[-6.4,-24.7],[-6,-24.2],[-5.6,-24.4]];

// ---------- axes ----------
const SVGNS='http://www.w3.org/2000/svg';
const chart=document.getElementById('chart');
const panelZero=[816.5,2061.7,3307.5];
const axisSpans=[[185,1410],[1431,2658],[2675,3904]];
const X_UNIT=20.68,Y_UNIT=21.77,Y_ZERO=2795,BASE=3504,TEXT_SQUISH=0.82;
const xs=(p,v)=>panelZero[p]+v*X_UNIT;
const ys=v=>Y_ZERO-v*Y_UNIT;
function mk(tag,attrs,parent){const e=document.createElementNS(SVGNS,tag);for(const k in attrs)e.setAttribute(k,attrs[k]);(parent||chart).appendChild(e);return e;}
function label(txt,x,y,size,anchor,extra,squish){
  const e=mk('text',{'font-size':size,'text-anchor':anchor,fill:'#111',transform:`translate(${x} ${y}) scale(${squish||TEXT_SQUISH} 1)${extra||''}`});
  e.textContent=txt;return e;
}
function smooth(pts){
  const n=pts.length;let d=`M${pts[0][0]} ${pts[0][1]}`;
  for(let i=0;i<n;i++){
    const p0=pts[(i-1+n)%n],p1=pts[i],p2=pts[(i+1)%n],p3=pts[(i+2)%n];
    d+=`C${p1[0]+(p2[0]-p0[0])/6} ${p1[1]+(p2[1]-p0[1])/6} ${p2[0]-(p3[0]-p1[0])/6} ${p2[1]-(p3[1]-p1[1])/6} ${p2[0]} ${p2[1]}`;
  }
  return d+'Z';
}
function region(p,color,arr,opacity){
  const e=mk('path',{d:smooth(arr.map(q=>[xs(p,q[0]),ys(q[1])])),fill:color,'fill-opacity':opacity});
  
  
}
function dots(p,color,arr){
  const g=mk('g',{fill:color});
  
  
  arr.forEach(q=>{
    const c=mk('circle',{cx:xs(p,q[0]),cy:ys(q[1]),r:3.7},g);
    
    
  });
}
function band(p,color,arr,w){
  const pts=arr.map(q=>xs(p,q[0])+','+ys(q[1])).join(' ');
  const e=mk('polyline',{points:pts,fill:'none',stroke:color,'stroke-width':w,'stroke-linecap':'round','stroke-linejoin':'round','stroke-opacity':.9});
  
  
}
const C={vsm:legendColors[0],t:legendColors[1],mes:legendColors[2],ley:legendColors[3],imm:legendColors[4],ser:legendColors[5],end:legendColors[6],mac:legendColors[7],ssc:legendColors[8],gon:legendColors[9],ear:legendColors[10],lat:legendColors[11],sp1:legendColors[12],sp2:legendColors[13],spe:legendColors[14]};

// P0 marks
region(0,C.ley,p0LeydigHalo,.33);dots(0,C.ley,p0LeydigHaloDots);region(0,C.ley,p0LeydigCore,.92);region(0,C.ley,p0LeydigLobe,.55);region(0,C.ley,p0LeydigLobeCore,.95);dots(0,C.ley,p0LeydigDots);
region(0,C.ser,p0SertoliCore,.95);dots(0,C.ser,p0SertoliDots);
region(0,C.vsm,p0VsmCore,.8);dots(0,C.vsm,p0VsmDots);dots(0,C.end,p0EndoSmallDots);dots(0,C.t,p0TDots);
region(0,C.mac,p0MacCore,.85);dots(0,C.mac,p0MacDots);dots(0,C.mes,p0MesDots);dots(0,C.imm,p0ImmDots);dots(0,C.ssc,p0SscDots);dots(0,C.gon,p0GoniaDots);
region(0,C.end,p0EndoCore,.75);dots(0,C.end,p0EndoDots);
// P90 marks
region(1,C.ley,p90LeydigBand,.42);dots(1,C.ley,p90LeydigBandDots);region(1,C.ley,p90LeydigCore,.95);region(1,C.ley,p90LeydigKnot,.9);region(1,C.ley,p90LeydigFoot,.85);dots(1,C.ley,p90LeydigDots);
dots(1,C.ser,p90SertoliDots);region(1,C.ser,p90SertoliKnot,.8);
region(1,C.vsm,p90VsmCore,.9);dots(1,C.vsm,p90VsmDots);region(1,C.end,p90EndoSmall,.9);dots(1,C.end,p90EndoSmallDots);
region(1,C.t,p90TCore,.8);dots(1,C.t,p90TDots);region(1,C.mac,p90MacCore,.8);dots(1,C.mac,p90MacDots);dots(1,C.mes,p90MesDots);dots(1,C.imm,p90ImmDots);
region(1,C.ear,p90EarlyCore,.9);dots(1,C.ear,p90EarlyDots);region(1,C.lat,p90LateCore,.6);dots(1,C.lat,p90LateDots);
region(1,C.sp1,p90Sp1Core,.7);dots(1,C.sp1,p90Sp1Dots);dots(1,C.sp2,p90Sp2Dots);dots(1,C.spe,p90SpermDots);
region(1,C.gon,p90GoniaCore,.6);dots(1,C.gon,p90GoniaDots);region(1,C.ssc,p90SscCore,.9);dots(1,C.ssc,p90SscDots);
region(1,C.end,p90EndoCore,.88);dots(1,C.end,p90EndoDots);
// P720 marks
dots(2,C.ley,p720LeydigBandDots);dots(2,C.ley,p720LeydigHaloDots);region(2,C.ley,p720LeydigHeart,.75);region(2,C.ley,p720LeydigKnot,.85);region(2,C.ley,p720LeydigFoot,.85);dots(2,C.ley,p720LeydigDots);
dots(2,C.ser,p720SertoliDots);region(2,C.ser,p720SertoliKnot,.7);
region(2,C.vsm,p720VsmCore,.92);dots(2,C.vsm,p720VsmDots);dots(2,C.lat,p720LateExtra);region(2,C.end,p720EndoSmall,.8);dots(2,C.end,p720EndoSmallDots);
region(2,C.t,p720TCore,.95);dots(2,C.t,p720TDots);region(2,C.mac,p720MacKnot,.95);dots(2,C.mac,p720MacDots);dots(2,C.mes,p720MesDots);dots(2,C.imm,p720ImmDots);
region(2,C.lat,p720LateCore,.85);dots(2,C.lat,p720LateDots);region(2,C.ear,p720EarlyCore,.85);dots(2,C.ear,p720EarlyDots);
dots(2,C.sp1,p720Sp1Dots);band(2,C.sp2,p720Sp2Band,12);dots(2,C.sp2,p720Sp2Dots);
region(2,C.spe,p720SpermCore,.9);band(2,C.spe,p720SpermBand,14);dots(2,C.spe,p720SpermDots);
dots(2,C.gon,p720GoniaDots);dots(2,C.ssc,p720SscDots);region(2,C.end,p720EndoCore,.88);dots(2,C.end,p720EndoDots);

// axes and text
const allLabels=[p0Labels,p90Labels,p720Labels];
const yAxis=mk('line',{x1:185,x2:185,y1:2255,y2:BASE+2,stroke:'#222','stroke-width':4});


yTicks.forEach(v=>{
  const t=mk('line',{x1:175,x2:185,y1:ys(v),y2:ys(v),stroke:'#222','stroke-width':3.5});
  
  
  const l=label(String(v),166,ys(v)+15,42,'end');
  
  
});
panelTitles.forEach((title,p)=>{
  const ax=mk('line',{x1:axisSpans[p][0],x2:axisSpans[p][1],y1:BASE,y2:BASE,stroke:'#222','stroke-width':4});
  
  
  xTicks.forEach(v=>{
    const t=mk('line',{x1:xs(p,v),x2:xs(p,v),y1:BASE,y2:BASE+11,stroke:'#222','stroke-width':3.5});
    
    
    const l=label(String(v),xs(p,v),3560,42,'middle');
    
    
  });
  const tt=label(title,(axisSpans[p][0]+axisSpans[p][1])/2,2239,44,'middle');
  tt.setAttribute('font-weight','bold');
  
  
  allLabels[p].forEach(a=>{
    const l=label(a[0],xs(p,a[1]),ys(a[2])+14,42,'middle');
    
    
  });
});
const xTitle=label('UMAP_1',2043,3620,50,'middle',' ',.9);


const yTitle=label('UMAP_2',96,2878,49,'middle',' rotate(-90)');


legendLabels.forEach((t,i)=>{
  const y=2512+i*54.4;
  const d=mk('ellipse',{cx:3964,cy:y,rx:13,ry:14,fill:legendColors[i]});
  
  
  const l=label(t,4011,y+14,40,'start','',.915);
  
  
});

// ---------- panel A shapes ----------
const tubuleOutline=[[516,105],[560,108],[605,120],[650,150],[694,184],[725,218],[751,253],[770,290],[780,324],[785,386],[782,430],[773,470],[755,508],[732,541],[705,568],[675,590],[640,610],[605,623],[535,630],[490,624],[446,612],[410,594],[382,572],[358,545],[344,519],[337,474],[338,450],[347,426],[360,396],[376,368],[392,350],[414,347],[446,359],[460,386],[458,405],[452,426],[449,466],[465,497],[497,505],[528,492],[551,461],[559,421],[556,392],[547,368],[530,335],[509,301],[465,262],[450,242],[439,217],[433,177],[435,155],[439,137],[458,115],[490,106]];
document.getElementById('tubule-shape').setAttribute('d',smooth(tubuleOutline));
const arrowSpecs=[[603,142,657,118,3.2,18,15],[608,207,728,186,4.6,34,22],[508,294,454,317,3,20,13],[381,414,298,392,4,24,19],[570,395,517,421,3.4,22,17],[664,309,812,352,6.5,42,32],[697,434,800,485,4,26,18],[453,503,500,474,3,16,14],[380,492,303,513,3.6,22,17],[604,533,682,647,4.4,34,20],[465,576,438,636,3.4,22,14]];
const arrowsG=document.getElementById('arrows');
arrowSpecs.forEach(s=>{
  const [x1,y1,x2,y2,w,hl,hw]=s;const dx=x2-x1,dy=y2-y1,L=Math.hypot(dx,dy),ux=dx/L,uy=dy/L,nx=-uy,ny=ux;
  const bx=x2-ux*hl,by=y2-uy*hl;
  const e=mk('polygon',{fill:'#3a3a3a',points:[[x1+nx*w/3,y1+ny*w/3],[bx+nx*w/2,by+ny*w/2],[bx+nx*hw/2,by+ny*hw/2],[x2,y2],[bx-nx*hw/2,by-ny*hw/2],[bx-nx*w/2,by-ny*w/2],[x1-nx*w/3,y1-ny*w/3]].map(q=>q.join(',')).join(' ')},arrowsG);
  
  
});
</script>
</body></html>
